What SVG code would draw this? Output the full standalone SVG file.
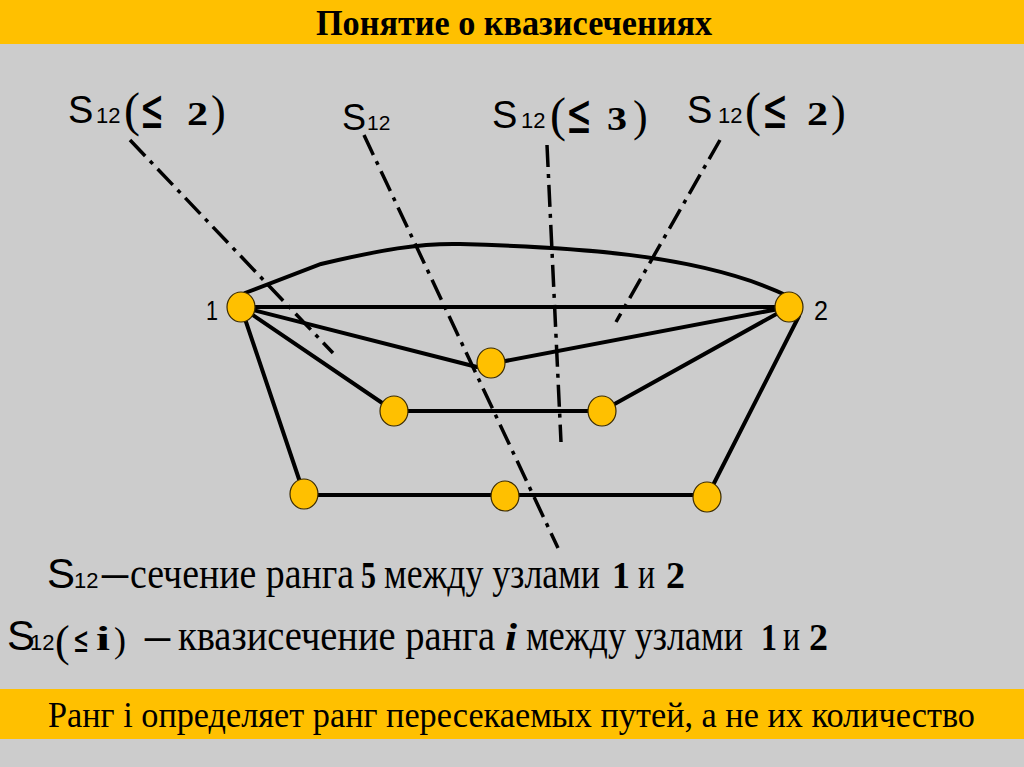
<svg xmlns="http://www.w3.org/2000/svg" width="1024" height="767" viewBox="0 0 1024 767">
<style>
.bar{fill:#ffc000}
.edge{fill:none;stroke:#000;stroke-width:4;stroke-linecap:round}
.cut{fill:none;stroke:#000;stroke-width:3.5;stroke-dasharray:22 7 4 7}
.node{fill:#ffc000;stroke:#3a2a00;stroke-width:1.2}
.sans{font-family:"Liberation Sans",Arial,sans-serif;fill:#000}
.serif{font-family:"Liberation Serif","DejaVu Serif",serif;fill:#000}
.le{font-family:"DejaVu Sans","Liberation Sans",sans-serif;fill:#000}
.b{font-weight:bold}
</style>
<rect x="0" y="0" width="1024" height="767" fill="#cccccc"/>
<rect class="bar" x="0" y="0" width="1024" height="44"/>
<rect class="bar" x="0" y="689" width="1024" height="50"/>
<text class="serif b" x="316" y="35" font-size="35" textLength="396" lengthAdjust="spacingAndGlyphs">Понятие о квазисечениях</text>
<text class="serif" x="48" y="727" font-size="36" textLength="927" lengthAdjust="spacingAndGlyphs">Ранг i определяет ранг пересекаемых путей, а не их количество</text>

<g id="connectors">
<path class="edge" d="M245,293 L321,264 C380,250 420,243 460,244 C560,247 700,252 792,298"/>
<path class="edge" d="M241,307 L789,307"/>
<path class="edge" d="M241,307 L477,367"/>
<path class="edge" d="M500,362 L789,307"/>
<path class="edge" d="M241,307 L394,411"/>
<path class="edge" d="M394,411 L602,411"/>
<path class="edge" d="M602,411 L789,307"/>
<path class="edge" d="M241,307 L304,494"/>
<path class="edge" d="M304,495 L707,495"/>
<path class="edge" d="M799,316 L707,497"/>
<path class="cut" d="M130,140 L333,353"/>
<path class="cut" d="M364,135 L558,548"/>
<path class="cut" d="M547,145 L561,442"/>
<path class="cut" d="M720,140 L616,322"/>
</g>

<g id="node1"><ellipse class="node" cx="241" cy="307" rx="14" ry="15"/><text class="sans" x="206" y="320" font-size="28" textLength="12" lengthAdjust="spacingAndGlyphs">1</text></g>
<g id="node2"><ellipse class="node" cx="789" cy="307" rx="14" ry="15"/><text class="sans" x="814" y="320" font-size="27" textLength="14" lengthAdjust="spacingAndGlyphs">2</text></g>
<g id="node3"><ellipse class="node" cx="491" cy="363" rx="14" ry="15"/></g>
<g id="node4"><ellipse class="node" cx="394" cy="411" rx="14" ry="15"/></g>
<g id="node5"><ellipse class="node" cx="602" cy="411" rx="14" ry="15"/></g>
<g id="node6"><ellipse class="node" cx="304" cy="494" rx="14" ry="15"/></g>
<g id="node7"><ellipse class="node" cx="505" cy="496" rx="14" ry="15"/></g>
<g id="node8"><ellipse class="node" cx="707" cy="497" rx="14" ry="15"/></g>

<g id="label-cut1">
<text class="sans" x="68" y="123" font-size="38">S</text>
<text class="sans" x="96" y="123" font-size="22">12</text>
<text class="serif" x="124" y="126" font-size="48">(</text>
<text class="le" x="140" y="128" font-size="56" textLength="24" lengthAdjust="spacingAndGlyphs">≤</text>
<text class="serif b" x="187" y="125" font-size="33" textLength="21" lengthAdjust="spacingAndGlyphs">2</text>
<text class="serif" x="211" y="126" font-size="44">)</text>
</g>
<g id="label-cut2">
<text class="sans" x="342" y="130" font-size="36">S</text>
<text class="sans" x="367" y="130" font-size="21">12</text>
</g>
<g id="label-cut3">
<text class="sans" x="492" y="128" font-size="38">S</text>
<text class="sans" x="521" y="128" font-size="22">12</text>
<text class="serif" x="550" y="131" font-size="48">(</text>
<text class="le" x="566" y="133" font-size="56" textLength="26" lengthAdjust="spacingAndGlyphs">≤</text>
<text class="serif b" x="607" y="130" font-size="33" textLength="20" lengthAdjust="spacingAndGlyphs">3</text>
<text class="serif" x="633" y="131" font-size="44">)</text>
</g>
<g id="label-cut4">
<text class="sans" x="687" y="123" font-size="38">S</text>
<text class="sans" x="718" y="123" font-size="22">12</text>
<text class="serif" x="745" y="126" font-size="48">(</text>
<text class="le" x="762" y="128" font-size="56" textLength="26" lengthAdjust="spacingAndGlyphs">≤</text>
<text class="serif b" x="807" y="125" font-size="33" textLength="21" lengthAdjust="spacingAndGlyphs">2</text>
<text class="serif" x="831" y="126" font-size="44">)</text>
</g>

<g id="legend1">
<text class="sans" x="47" y="588" font-size="42">S</text>
<text class="sans" x="74" y="588" font-size="22">12</text>
<text class="serif b" x="102" y="586" font-size="40" textLength="26" lengthAdjust="spacingAndGlyphs">–</text>
<text class="serif" x="130" y="588" font-size="44" textLength="224" lengthAdjust="spacingAndGlyphs">сечение ранга</text>
<text class="serif b" x="361" y="588" font-size="37" textLength="15" lengthAdjust="spacingAndGlyphs">5</text>
<text class="serif" x="384" y="588" font-size="44" textLength="216" lengthAdjust="spacingAndGlyphs">между узлами</text>
<text class="serif b" x="612" y="588" font-size="37" textLength="18" lengthAdjust="spacingAndGlyphs">1</text>
<text class="serif" x="638" y="588" font-size="44" textLength="17" lengthAdjust="spacingAndGlyphs">и</text>
<text class="serif b" x="666" y="588" font-size="37" textLength="19" lengthAdjust="spacingAndGlyphs">2</text>
</g>
<g id="legend2">
<text class="sans" x="7" y="650" font-size="42">S</text>
<text class="sans" x="30" y="650" font-size="22">12</text>
<text class="serif" x="55" y="656" font-size="44">(</text>
<text class="le" x="73" y="652" font-size="36" textLength="16" lengthAdjust="spacingAndGlyphs">≤</text>
<text class="serif b" x="96" y="650" font-size="34" textLength="14" lengthAdjust="spacingAndGlyphs">i</text>
<text class="serif" x="114" y="652" font-size="36">)</text>
<text class="serif b" x="145" y="649" font-size="40" textLength="25" lengthAdjust="spacingAndGlyphs">–</text>
<text class="serif" x="178" y="650" font-size="44" textLength="317" lengthAdjust="spacingAndGlyphs">квазисечение ранга</text>
<text class="serif b" x="505" y="650" font-size="38" font-style="italic" textLength="12" lengthAdjust="spacingAndGlyphs">i</text>
<text class="serif" x="526" y="650" font-size="44" textLength="217" lengthAdjust="spacingAndGlyphs">между узлами</text>
<text class="serif b" x="761" y="650" font-size="37" textLength="16" lengthAdjust="spacingAndGlyphs">1</text>
<text class="serif" x="783" y="650" font-size="44" textLength="17" lengthAdjust="spacingAndGlyphs">и</text>
<text class="serif b" x="809" y="650" font-size="37" textLength="19" lengthAdjust="spacingAndGlyphs">2</text>
</g>
</svg>
